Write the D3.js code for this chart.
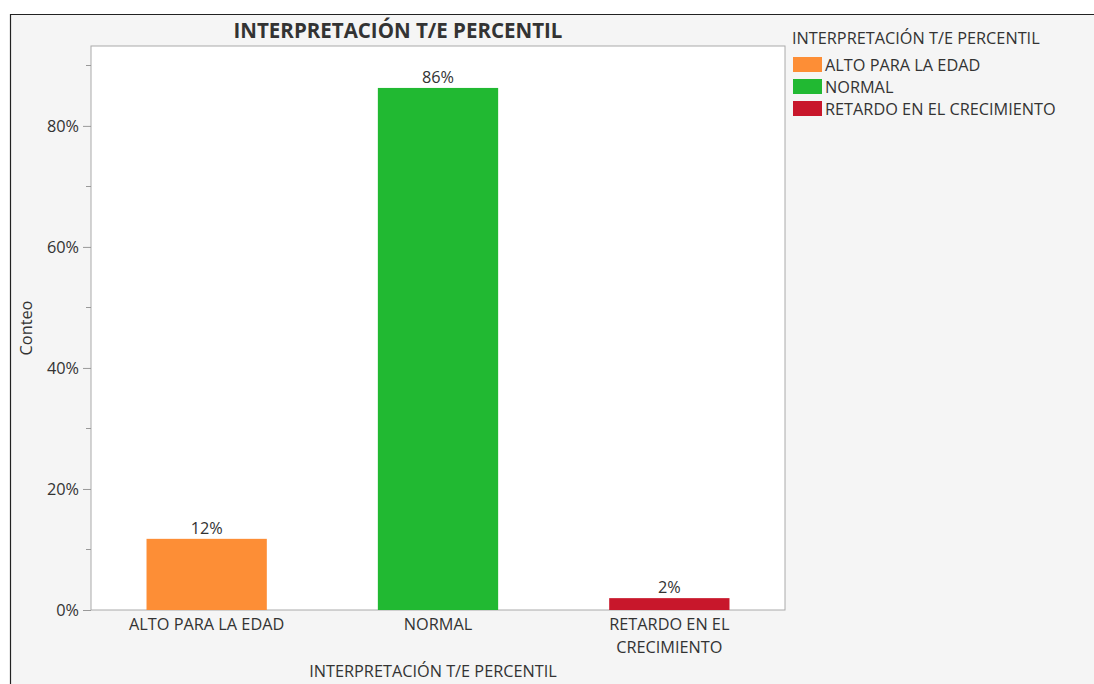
<!DOCTYPE html>
<meta charset="utf-8">
<script src="https://d3js.org/d3.v7.min.js"></script>
<style>
  body { margin: 0; background: white; }
  text { font-family: "Open Sans", "Noto Sans", sans-serif; fill: #333; }
</style>
<div id="chart"></div>
<script>
var categories = ["ALTO PARA LA EDAD", "NORMAL", "RETARDO EN EL CRECIMIENTO"];
var tickLines = [["ALTO PARA LA EDAD"], ["NORMAL"], ["RETARDO EN EL", "CRECIMIENTO"]];
var shares = [0.1176, 0.8627, 0.0196];
var colors = ["#fd8e36", "#21b932", "#c8172b"];
var yTicks = [0, 0.2, 0.4, 0.6, 0.8];
var title = "INTERPRETACIÓN T/E PERCENTIL";

var W = 1094, H = 684;
var margin = {top: 46, left: 91, right: 309, bottom: 74};
var width = W - margin.left - margin.right,
    height = H - margin.top - margin.bottom;
var fs = "16.3px";

var svg = d3.select("#chart").append("svg")
    .attr("width", W).attr("height", H);

// frame background
svg.append("rect").attr("x", 10).attr("y", 14).attr("width", W - 10).attr("height", H - 14)
    .attr("fill", "#f5f5f5");
svg.append("path").attr("d", "M10.5," + H + "V14.5H" + W)
    .attr("fill", "none").attr("stroke", "#222").attr("stroke-width", 1.2);

var g = svg.append("g").attr("transform", "translate(" + margin.left + "," + margin.top + ")");

var x = d3.scaleBand().domain(categories).range([0, width])
    .paddingInner(0.48).paddingOuter(0.24);
var y = d3.scaleLinear().domain([0, 0.932]).range([height, 0]);

g.append("rect").attr("width", width).attr("height", height)
    .attr("fill", "white").attr("stroke", "#aaa");

// minor ticks
g.selectAll(".minor").data(d3.range(0.1, 0.95, 0.2)).enter().append("line")
    .attr("x1", -5).attr("x2", 0)
    .attr("y1", function(d) { return Math.round(y(d)) + 0.5; })
    .attr("y2", function(d) { return Math.round(y(d)) + 0.5; })
    .attr("stroke", "#999");

var yAxis = g.append("g")
    .call(d3.axisLeft(y).tickValues(yTicks).tickFormat(d3.format(".0%")).tickSize(8).tickPadding(4));
yAxis.select(".domain").remove();
yAxis.selectAll("line").attr("stroke", "#999");
yAxis.selectAll("text").style("font-size", fs).attr("fill", "#333");

g.selectAll(".bar").data(shares).enter().append("rect")
    .attr("x", function(d, i) { return x(categories[i]); })
    .attr("y", function(d) { return y(d); })
    .attr("width", x.bandwidth())
    .attr("height", function(d) { return height - y(d); })
    .attr("fill", function(d, i) { return colors[i]; });

g.selectAll(".lbl").data(shares).enter().append("text")
    .attr("x", function(d, i) { return x(categories[i]) + x.bandwidth() / 2; })
    .attr("y", function(d) { return y(d) - 5; })
    .attr("text-anchor", "middle")
    .style("font-size", fs)
    .text(d3.format(".0%"));

// x tick labels
categories.forEach(function(c, i) {
  var t = g.append("text")
      .attr("x", x(c) + x.bandwidth() / 2)
      .attr("y", height + 20)
      .attr("text-anchor", "middle")
      .style("font-size", fs);
  tickLines[i].forEach(function(line, j) {
    t.append("tspan").attr("x", x(c) + x.bandwidth() / 2).attr("dy", j ? 23 : 0).text(line);
  });
});

// titles
svg.append("text").attr("x", margin.left + width / 2 - 40).attr("y", 38)
    .attr("text-anchor", "middle").style("font-size", "20.5px").style("font-weight", "bold")
    .attr("fill", "#111").text(title);

svg.append("text").attr("x", 433).attr("y", 677)
    .attr("text-anchor", "middle").style("font-size", fs).text(title);

svg.append("text").attr("transform", "translate(32," + (margin.top + height / 2) + ") rotate(-90)")
    .attr("text-anchor", "middle").style("font-size", fs).text("Conteo");

// legend
var lg = svg.append("g").attr("transform", "translate(792,0)");
lg.append("text").attr("x", 0).attr("y", 44).style("font-size", fs).text(title);
categories.forEach(function(c, i) {
  lg.append("rect").attr("x", 1).attr("y", 57 + i * 22).attr("width", 29).attr("height", 15)
      .attr("fill", colors[i]);
  lg.append("text").attr("x", 33).attr("y", 71 + i * 22).style("font-size", fs).text(c);
});
</script>
